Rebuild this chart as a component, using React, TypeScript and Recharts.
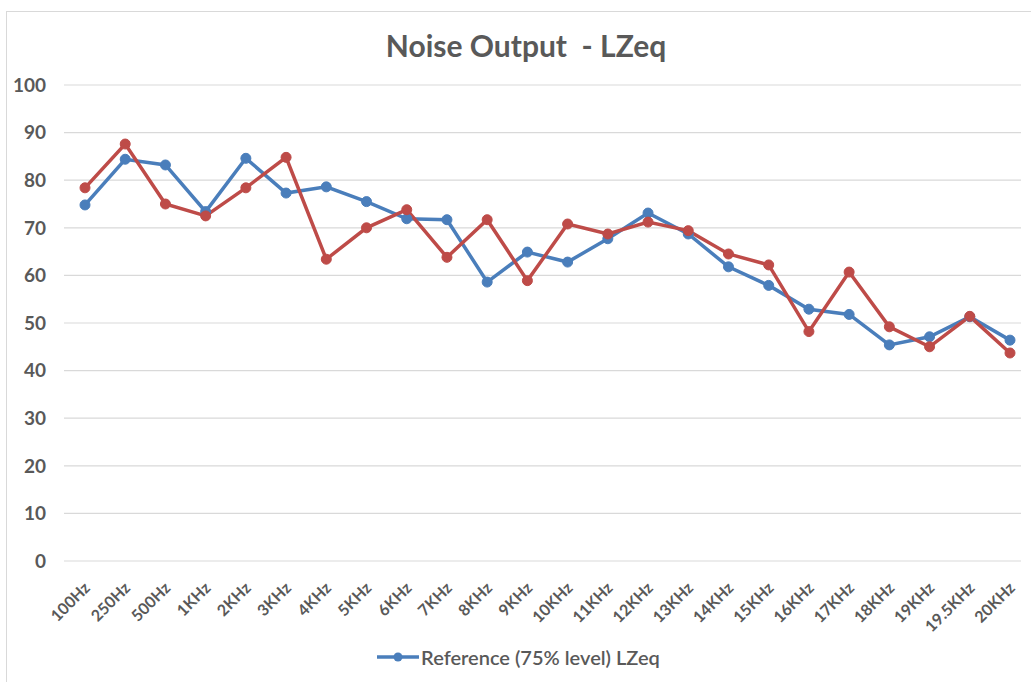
import React from "react";
import {
	LineChart,
	Line,
	XAxis,
	YAxis,
	CartesianGrid,
	Legend,
} from "recharts";

const frequencies = [
	"100Hz", "250Hz", "500Hz", "1KHz", "2KHz", "3KHz", "4KHz", "5KHz",
	"6KHz", "7KHz", "8KHz", "9KHz", "10KHz", "11KHz", "12KHz", "13KHz",
	"14KHz", "15KHz", "16KHz", "17KHz", "18KHz", "19KHz", "19.5KHz", "20KHz",
];

// reference series (blue)
const referenceLevel = [
	74.8, 84.4, 83.2, 73.4, 84.6, 77.3, 78.6, 75.5, 71.9, 71.7, 58.6, 64.9,
	62.8, 67.7, 73.1, 68.7, 61.8, 57.9, 52.9, 51.8, 45.4, 47.1, 51.3, 46.4,
];

// measured series (red)
const measuredLevel = [
	78.4, 87.6, 75.0, 72.5, 78.4, 84.8, 63.4, 70.0, 73.8, 63.8, 71.7, 58.9,
	70.8, 68.7, 71.2, 69.4, 64.5, 62.2, 48.2, 60.7, 49.2, 45.0, 51.4, 43.7,
];

const yTicks = [0, 10, 20, 30, 40, 50, 60, 70, 80, 90, 100];

const data = frequencies.map((f, i) => ({
	freq: f,
	reference: referenceLevel[i],
	measured: measuredLevel[i],
}));

const FONT = "Lato, 'Open Sans', sans-serif";
const TEXT = "#595959";
const BLUE = "#4a7ebb";
const RED = "#be4b48";

const FreqTick = ({ x, y, payload }: any) => (
	<g transform={`translate(${x + 6},${y + 26})`}>
		<text
			x={0}
			y={0}
			textAnchor='end'
			transform='rotate(-45)'
			fill={TEXT}
			fontSize={16}
			fontWeight='bold'
			fontFamily={FONT}
		>
			{payload.value}
		</text>
	</g>
);

const renderLegend = () => (
	<div
		style={{
			display: "flex",
			justifyContent: "center",
			alignItems: "center",
			height: 30,
			paddingLeft: 16,
			fontFamily: FONT,
			fontSize: 20,
			fontWeight: 600,
			color: TEXT,
		}}
	>
		<svg width={42} height={12} style={{ marginRight: 2 }}>
			<line x1={0} y1={6} x2={42} y2={6} stroke={BLUE} strokeWidth={3.5} />
			<circle cx={21} cy={6} r={4.5} fill={BLUE} />
		</svg>
		<span>Reference (75% level) LZeq</span>
	</div>
);

export default function App() {
	return (
		<div style={{ position: "absolute", left: 0, top: 0, width: 1031, height: 682 }}>
			<div
				style={{
					position: "absolute",
					left: 6,
					top: 11,
					width: 1040,
					height: 680,
					border: "1px solid #d9d9d9",
				}}
			/>
			<div
				style={{
					position: "absolute",
					left: 0,
					top: 27,
					width: 1052,
					textAlign: "center",
					fontFamily: FONT,
					fontWeight: "bold",
					fontSize: 30,
					color: TEXT,
					whiteSpace: "pre",
				}}
			>
				Noise Output  - LZeq
			</div>
			<div style={{ position: "absolute", left: 0, top: 0 }}>
				<LineChart
					width={1031}
					height={682}
					data={data}
					margin={{ top: 85, right: 10, bottom: 10, left: 0 }}
				>
					<CartesianGrid vertical={false} stroke='#d9d9d9' strokeWidth={1.2} />
					<XAxis
						dataKey='freq'
						interval={0}
						axisLine={false}
						tickLine={false}
						tickSize={0}
						height={81}
						padding={{ left: 21, right: 11 }}
						tick={<FreqTick />}
					/>
					<YAxis
						domain={[0, 100]}
						ticks={yTicks}
						width={64}
						axisLine={false}
						tickLine={false}
						tickSize={0}
						tickMargin={18}
						tick={{
							fill: TEXT,
							fontSize: 19,
							fontWeight: "bold",
							fontFamily: FONT,
						}}
					/>
					<Legend verticalAlign='bottom' height={30} content={renderLegend} />
					<Line
						type='linear'
						dataKey='reference'
						name='Reference (75% level) LZeq'
						stroke={BLUE}
						strokeWidth={3.5}
						dot={{ r: 5, fill: BLUE, stroke: BLUE, strokeWidth: 1 }}
						isAnimationActive={false}
					/>
					<Line
						type='linear'
						dataKey='measured'
						stroke={RED}
						strokeWidth={3.5}
						dot={{ r: 5, fill: RED, stroke: RED, strokeWidth: 1 }}
						legendType='none'
						isAnimationActive={false}
					/>
				</LineChart>
			</div>
		</div>
	);
}
